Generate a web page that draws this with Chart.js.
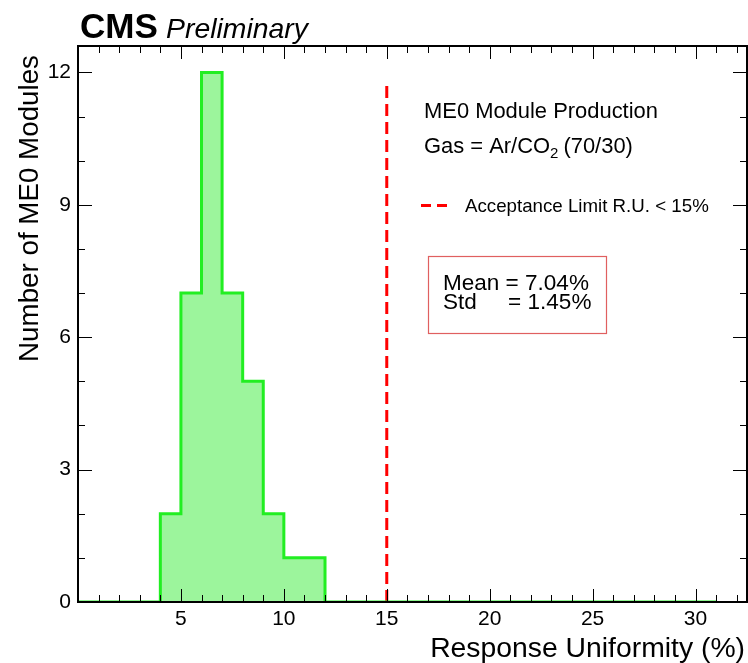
<!DOCTYPE html>
<html>
<head>
<meta charset="utf-8">
<script src="https://cdn.jsdelivr.net/npm/chart.js@4"></script>
<style>
html,body{margin:0;padding:0;background:#fff;}
#wrap{width:748px;height:663px;position:relative;}
</style>
</head>
<body>
<div id="wrap"><canvas id="c" width="748" height="663"></canvas></div>
<script>
// ---- data ----
const binLowEdges = [0,1,2,3,4,5,6,7,8,9,10,11,12,13,14,15,16,17,18,19,20,21,22,23,24,25,26,27,28,29,30];
const binCounts   = [0,0,0,0,2,7,12,7,5,2,1,1,0,0,0,0,0,0,0,0,0,0,0,0,0,0,0,0,0,0,0];
const binWidth = 1;
const acceptanceLimit = 15;
const acceptanceLineTop = 11.8;
const xTickValues = [5,10,15,20,25,30];
const yTickValues = [0,3,6,9,12];
const xRange = [0, 32.5];
const yRange = [0, 12.6];
const meanText = "Mean = 7.04%";
const stdText = "Std     = 1.45%";

const FONT = "'Liberation Sans', Arial, Helvetica, sans-serif";

// histogram as stepped line points (bin edges)
const histPoints = binLowEdges.map((e,i)=>({x:e, y:binCounts[i]}));
histPoints.push({x: binLowEdges[binLowEdges.length-1]+binWidth, y: binCounts[binCounts.length-1]});

const limitPoints = [{x:acceptanceLimit,y:0},{x:acceptanceLimit,y:acceptanceLineTop}];

function fitText(ctx, text, width, basePx, style){
  ctx.font = style + basePx + "px " + FONT;
  const w = ctx.measureText(text).width;
  ctx.font = style + (basePx*width/w).toFixed(2) + "px " + FONT;
}

const decor = {
  id:'decor',
  afterDatasetsDraw(chart){
    const ctx = chart.ctx;
    const a = chart.chartArea;
    const xs = chart.scales.x, ys = chart.scales.y;
    ctx.save();
    // inner ticks
    ctx.strokeStyle = '#000';
    ctx.lineWidth = 1;
    for(let v=1; v<=Math.floor(xRange[1]); v++){
      const px = Math.round(xs.getPixelForValue(v))+0.5;
      const len = (v%5===0)?13:7;
      ctx.beginPath();
      ctx.moveTo(px,a.bottom); ctx.lineTo(px,a.bottom-len);
      ctx.moveTo(px,a.top); ctx.lineTo(px,a.top+len);
      ctx.stroke();
    }
    for(let v=1; v<=Math.floor(yRange[1]); v++){
      const py = Math.round(ys.getPixelForValue(v))+0.5;
      const len = (v%3===0)?14:7;
      ctx.beginPath();
      ctx.moveTo(a.left,py); ctx.lineTo(a.left+len,py);
      ctx.moveTo(a.right,py); ctx.lineTo(a.right-len,py);
      ctx.stroke();
    }
    // frame
    ctx.lineWidth = 2;
    ctx.strokeRect(a.left, a.top, a.right-a.left, a.bottom-a.top);

    // CMS Preliminary
    ctx.fillStyle = '#000';
    ctx.textBaseline = 'alphabetic';
    ctx.textAlign = 'left';
    fitText(ctx, "CMS", 78, 36, "bold ");
    ctx.fillText("CMS", 80, 38);
    fitText(ctx, "Preliminary", 142, 28, "italic ");
    ctx.fillText("Preliminary", 166, 38);

    // axis titles
    fitText(ctx, "Response Uniformity (%)", 315, 28, "");
    ctx.textAlign = 'right';
    ctx.fillText("Response Uniformity (%)", 745, 657);
    ctx.save();
    ctx.translate(38, 55);
    ctx.rotate(-Math.PI/2);
    fitText(ctx, "Number of ME0 Modules", 307, 28, "");
    ctx.textAlign = 'right';
    ctx.fillText("Number of ME0 Modules", 0, 0);
    ctx.restore();

    // annotation text
    ctx.textAlign = 'left';
    fitText(ctx, "ME0 Module Production", 234, 22, "");
    const fs = ctx.font;
    ctx.fillText("ME0 Module Production", 424, 118);
    const g1 = "Gas = Ar/CO";
    ctx.fillText(g1, 424, 153);
    let gx = 424 + ctx.measureText(g1).width;
    ctx.font = "15px " + FONT;
    ctx.fillText("2", gx, 158);
    gx += ctx.measureText("2").width + 5;
    ctx.font = fs;
    ctx.fillText("(70/30)", gx, 153);

    // legend entry
    ctx.strokeStyle = '#ff0000';
    ctx.lineWidth = 3;
    ctx.setLineDash([10,6]);
    ctx.beginPath();
    ctx.moveTo(421, 205.5); ctx.lineTo(452, 205.5);
    ctx.stroke();
    ctx.setLineDash([]);
    fitText(ctx, "Acceptance Limit R.U. < 15%", 244, 19, "");
    ctx.fillText("Acceptance Limit R.U. < 15%", 465, 212);

    // stats box
    ctx.strokeStyle = '#e06060';
    ctx.lineWidth = 1.2;
    ctx.strokeRect(428.5, 256.5, 178, 77);
    ctx.fillStyle = '#000';
    fitText(ctx, meanText, 146, 22, "");
    ctx.fillText(meanText, 443, 290);
    ctx.fillText(stdText, 443, 309);
    ctx.restore();
  }
};

new Chart(document.getElementById('c'), {
  type: 'line',
  data: {
    datasets: [
      {
        label: 'ME0 modules',
        data: histPoints,
        stepped: 'before',
        borderColor: '#22ee22',
        backgroundColor: '#9cf59c',
        borderWidth: 3,
        fill: 'origin',
        pointRadius: 0,
        tension: 0
      },
      {
        label: 'Acceptance Limit R.U. < 15%',
        data: limitPoints,
        borderColor: '#ff0000',
        borderWidth: 3,
        borderDash: [12,6],
        fill: false,
        pointRadius: 0
      }
    ]
  },
  options: {
    responsive: false,
    animation: false,
    devicePixelRatio: 1,
    layout: { padding: { left: 0, right: 1, top: 46, bottom: 0 } },
    plugins: { legend: { display: false }, tooltip: { enabled: false } },
    scales: {
      x: {
        type: 'linear',
        min: xRange[0], max: xRange[1],
        afterBuildTicks(s){ s.ticks = xTickValues.map(v=>({value:v})); },
        afterFit(s){ s.height = 61; },
        grid: { display: false, drawTicks: false },
        border: { display: false },
        ticks: { color: '#000', font: { family: FONT, size: 21 }, padding: 5, maxRotation: 0, autoSkip: false }
      },
      y: {
        type: 'linear',
        min: yRange[0], max: yRange[1],
        afterBuildTicks(s){ s.ticks = yTickValues.map(v=>({value:v})); },
        afterFit(s){ s.width = 78; },
        grid: { display: false, drawTicks: false },
        border: { display: false },
        ticks: { color: '#000', font: { family: FONT, size: 21 }, padding: 7, autoSkip: false }
      }
    }
  },
  plugins: [decor]
});
</script>
</body>
</html>
